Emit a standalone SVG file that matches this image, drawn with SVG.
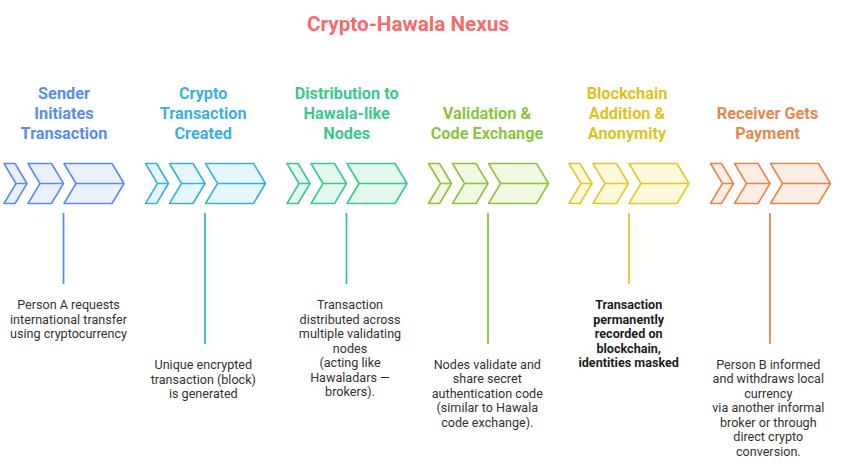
<svg xmlns="http://www.w3.org/2000/svg" width="841" height="467" viewBox="0 0 841 467">
<defs>
<style>
.title{font-family:Roboto,"Liberation Sans",sans-serif;font-weight:700;font-size:20.7px;fill:#f46b6b;text-anchor:middle}
.head{font-family:Roboto,"Liberation Sans",sans-serif;font-weight:700;font-size:16.3px;text-anchor:middle}
.body{font-family:Roboto,"Liberation Sans",sans-serif;font-size:12.6px;fill:#333333;text-anchor:middle}
.bold{font-weight:700;fill:#1e1e1e}
.chev{stroke-width:1.6;stroke-linejoin:round}
.mid{fill:none;stroke-width:1.6}
.conn{stroke-width:1.8;fill:none}
</style>
<g id="chevrons">
<polygon points="-59.5,163.5 -48.5,163.5 -36.5,183.5 -48.5,203.5 -59.5,203.5 -47.5,183.5"/>
<polygon points="-35.5,163.5 -12,163.5 0,183.5 -12,203.5 -35.5,203.5 -23.5,183.5"/>
<polygon points="0.5,163.5 48.5,163.5 60.5,183.5 48.5,203.5 0.5,203.5 12.5,183.5"/>
</g>
<g id="midlines">
<path d="M-47.5,183.5H-36.5M-23.5,183.5H0M12.5,183.5H60.5"/>
</g>
</defs>
<text class="title" x="408" y="30.5">Crypto-Hawala Nexus</text>

<g id="node1">
<use href="#chevrons" x="63.5" class="chev" fill="#eaf0fd" stroke="#5b8def"/>
<use href="#midlines" x="63.5" class="mid" stroke="#5b8def"/>
<text class="head" fill="#5b8def"><tspan x="64" y="99">Sender</tspan><tspan x="64" y="119">Initiates</tspan><tspan x="64" y="139">Transaction</tspan></text>
<text class="body"><tspan x="68.5" y="309">Person A requests</tspan><tspan x="68.5" y="323.5">international transfer</tspan><tspan x="68.5" y="338">using cryptocurrency</tspan></text>
</g>

<g id="node2">
<use href="#chevrons" x="205" class="chev" fill="#e6f6fd" stroke="#3cb0e2"/>
<use href="#midlines" x="205" class="mid" stroke="#3cb0e2"/>
<text class="head" fill="#3cb0e2"><tspan x="203.2" y="99">Crypto</tspan><tspan x="203.2" y="119">Transaction</tspan><tspan x="203.2" y="139">Created</tspan></text>
<text class="body"><tspan x="203.3" y="369">Unique encrypted</tspan><tspan x="203.3" y="383.5">transaction (block)</tspan><tspan x="203.3" y="398">is generated</tspan></text>
</g>

<g id="node3">
<use href="#chevrons" x="346.5" class="chev" fill="#e3f8ef" stroke="#3cc98b"/>
<use href="#midlines" x="346.5" class="mid" stroke="#3cc98b"/>
<text class="head" fill="#3cc98b"><tspan x="346.7" y="99">Distribution to</tspan><tspan x="346.7" y="119">Hawala-like</tspan><tspan x="346.7" y="139">Nodes</tspan></text>
<text class="body"><tspan x="350" y="309">Transaction</tspan><tspan x="350" y="323.5">distributed across</tspan><tspan x="350" y="338">multiple validating</tspan><tspan x="350" y="352.5">nodes</tspan><tspan x="350" y="367">(acting like</tspan><tspan x="350" y="381.5">Hawaladars —</tspan><tspan x="350" y="396">brokers).</tspan></text>
</g>

<g id="node4">
<use href="#chevrons" x="488" class="chev" fill="#f1f9e2" stroke="#8cc43f"/>
<use href="#midlines" x="488" class="mid" stroke="#8cc43f"/>
<text class="head" fill="#8cc43f"><tspan x="487" y="119">Validation &amp;</tspan><tspan x="487" y="139">Code Exchange</tspan></text>
<text class="body"><tspan x="487.3" y="368.5">Nodes validate and</tspan><tspan x="487.3" y="383">share secret</tspan><tspan x="487.3" y="397.5">authentication code</tspan><tspan x="487.3" y="412">(similar to Hawala</tspan><tspan x="487.3" y="426.5">code exchange).</tspan></text>
</g>

<g id="node5">
<use href="#chevrons" x="628.5" class="chev" fill="#fdf9dc" stroke="#e6c82b"/>
<use href="#midlines" x="628.5" class="mid" stroke="#e6c82b"/>
<text class="head" fill="#e0c21c"><tspan x="627" y="99">Blockchain</tspan><tspan x="627" y="119">Addition &amp;</tspan><tspan x="627" y="139">Anonymity</tspan></text>
<text class="body bold"><tspan x="628.7" y="309">Transaction</tspan><tspan x="628.7" y="323.5">permanently</tspan><tspan x="628.7" y="338">recorded on</tspan><tspan x="628.7" y="352.5">blockchain,</tspan><tspan x="628.7" y="367">identities masked</tspan></text>
</g>

<g id="node6">
<use href="#chevrons" x="770" class="chev" fill="#fdeee5" stroke="#e8874c"/>
<use href="#midlines" x="770" class="mid" stroke="#e8874c"/>
<text class="head" fill="#e8874c"><tspan x="767.5" y="119">Receiver Gets</tspan><tspan x="767.5" y="139">Payment</tspan></text>
<text class="body"><tspan x="768.3" y="368.5">Person B informed</tspan><tspan x="768.3" y="383">and withdraws local</tspan><tspan x="768.3" y="397.5">currency</tspan><tspan x="768.3" y="412">via another informal</tspan><tspan x="768.3" y="426.5">broker or through</tspan><tspan x="768.3" y="441">direct crypto</tspan><tspan x="768.3" y="455.5">conversion.</tspan></text>
</g>

<g id="connectors" class="conn">
<line x1="63.5" y1="213" x2="63.5" y2="284" stroke="#5b8def"/>
<line x1="205" y1="213" x2="205" y2="344" stroke="#3cb0e2"/>
<line x1="346.5" y1="213" x2="346.5" y2="284" stroke="#3cc98b"/>
<line x1="488" y1="213" x2="488" y2="344" stroke="#8cc43f"/>
<line x1="629" y1="213" x2="629" y2="284" stroke="#e6c82b"/>
<line x1="770" y1="213" x2="770" y2="344" stroke="#e8874c"/>
</g>
</svg>
